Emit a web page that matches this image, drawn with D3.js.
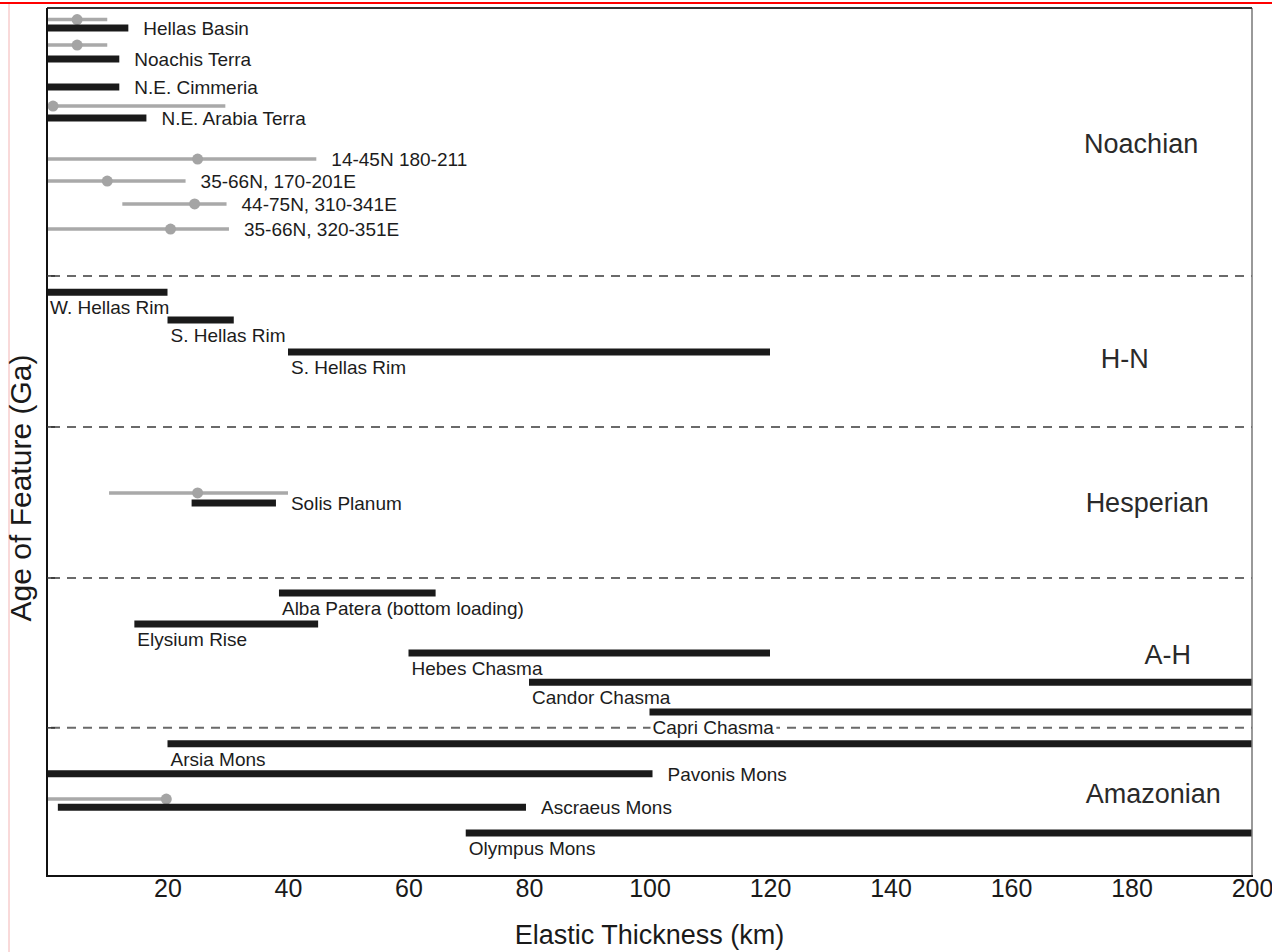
<!DOCTYPE html>
<html>
<head>
<meta charset="utf-8">
<script src="https://cdn.jsdelivr.net/npm/d3@7"></script>
<style>
  body { margin: 0; background: #fff; }
  svg { display: block; font-family: "Liberation Sans", Arial, sans-serif; }
</style>
</head>
<body>
<div id="chart"></div>
<script>
// feature names, top to bottom
var features = ["Hellas Basin", "Noachis Terra", "N.E. Cimmeria", "N.E. Arabia Terra",
  "14-45N 180-211", "35-66N, 170-201E", "44-75N, 310-341E", "35-66N, 320-351E",
  "W. Hellas Rim", "S. Hellas Rim", "S. Hellas Rim", "Solis Planum",
  "Alba Patera (bottom loading)", "Elysium Rise", "Hebes Chasma", "Candor Chasma", "Capri Chasma",
  "Arsia Mons", "Pavonis Mons", "Ascraeus Mons", "Olympus Mons"]

// black bars: elastic thickness range (km) and row
var blackLo  = [0, 0, 0, 0, null, null, null, null, 0, 20, 40, 24, 38.5, 14.5, 60, 80, 100, 20, 0, 1.8, 69.5]
var blackHi  = [13.5, 12, 12, 16.5, null, null, null, null, 20, 31, 120, 38, 64.5, 45, 120, 200, 200, 200, 100.5, 79.5, 200]
var blackRow = [0.69, 1.76, 2.73, 3.80, null, null, null, null, 9.82, 10.78, 11.89, 17.11, 20.22, 21.29, 22.29, 23.30, 24.33, 25.43, 26.47, 27.62, 28.51]

// grey estimates: range, best fit (dot) and row
var grayLo   = [0, 0, null, 0, 0, 0, 12.5, 0, null, null, null, 10.3, null, null, null, null, null, null, null, 0, null]
var grayHi   = [10, 10, null, 29.6, 44.7, 23, 29.8, 30.2, null, null, null, 40, null, null, null, null, null, null, null, 19.8, null]
var grayBest = [5, 5, null, 1, 25, 10, 24.5, 20.5, null, null, null, 25, null, null, null, null, null, null, null, 19.8, null]
var grayRow  = [0.40, 1.28, null, 3.39, 5.22, 5.98, 6.77, 7.64, null, null, null, 16.76, null, null, null, null, null, null, null, 27.34, null]

var labelSide = ["right", "right", "right", "right", "right", "right", "right", "right",
  "below", "below", "below", "right", "below", "below", "below", "below", "below",
  "below", "right", "right", "below"]

// age periods
var eras   = ["Noachian", "H-N", "Hesperian", "A-H", "Amazonian"]
var eraRow = [4.67, 12.1, 17.1, 22.33, 27.13]
var eraKm  = [181.6, 178.9, 182.6, 186, 183.6]
var boundaries = [9.26, 14.48, 19.70, 24.88]

var xTicks = [20, 40, 60, 80, 100, 120, 140, 160, 180, 200]

var width = 1272, height = 952
var plotLeft = 47, plotRight = 1252, plotTop = 8, plotBottom = 876

var svg = d3.select("#chart").append("svg")
  .attr("width", width).attr("height", height)

var x = d3.scaleLinear().domain([0, 200]).range([plotLeft, plotRight])
var y = d3.scaleLinear().domain([0, 30]).range([plotTop, plotBottom])

// screenshot edge marks
svg.append("line").attr("x1", 9).attr("x2", 9).attr("y1", 3).attr("y2", height)
  .attr("stroke", "#f3b4b4").attr("stroke-width", 1)
svg.append("line").attr("x1", 0).attr("x2", width).attr("y1", 3).attr("y2", 3)
  .attr("stroke", "#ff0000").attr("stroke-width", 2)

var rows = features.map(function(name, i) {
  return {
    name: name,
    bLo: blackLo[i], bHi: blackHi[i], bRow: blackRow[i],
    gLo: grayLo[i], gHi: grayHi[i], gBest: grayBest[i], gRow: grayRow[i],
    side: labelSide[i]
  }
})

// period boundaries
svg.append("g").selectAll("line")
  .data(boundaries).enter().append("line")
  .attr("x1", plotLeft).attr("x2", plotRight)
  .attr("y1", d => y(d)).attr("y2", d => y(d))
  .attr("stroke", "#6a6a6a").attr("stroke-width", 2)
  .attr("stroke-dasharray", "9,7")
  .attr("stroke-dashoffset", -4)

// label positions
rows.forEach(function(d) {
  if (d.side == "right") {
    var end = d.bHi != null ? d.bHi : d.gHi
    d.lx = x(end) + 15
    d.ly = y(d.bRow != null ? d.bRow : d.gRow)
  } else {
    d.lx = x(d.bLo) + 3
    d.ly = y(d.bRow) + 15
  }
})

var labelG = svg.append("g")
var marks = svg.append("g")

var labels = labelG.selectAll("text")
  .data(rows).enter().append("text")
  .attr("x", d => d.lx)
  .attr("y", d => d.ly)
  .attr("dy", "0.36em")
  .attr("font-size", 19)
  .attr("fill", "#1c1c1c")
  .text(d => d.name)

// white backing so dashed lines break under labels
labels.each(function() {
  var b = this.getBBox()
  labelG.insert("rect", "text")
    .attr("x", b.x - 2).attr("y", b.y + 2)
    .attr("width", b.width + 4).attr("height", b.height - 4)
    .attr("fill", "#fff")
})
labelG.raise()

var grayRows = rows.filter(d => d.gRow != null)
marks.selectAll("line.gray")
  .data(grayRows).enter().append("line")
  .attr("class", "gray")
  .attr("x1", d => x(d.gLo)).attr("x2", d => x(d.gHi))
  .attr("y1", d => y(d.gRow)).attr("y2", d => y(d.gRow))
  .attr("stroke", "#a9a9a9").attr("stroke-width", 3.5)

marks.selectAll("circle")
  .data(grayRows).enter().append("circle")
  .attr("cx", d => x(d.gBest)).attr("cy", d => y(d.gRow))
  .attr("r", 5.5)
  .attr("fill", "#a4a4a4")

marks.selectAll("line.black")
  .data(rows.filter(d => d.bRow != null)).enter().append("line")
  .attr("class", "black")
  .attr("x1", d => x(d.bLo)).attr("x2", d => x(d.bHi))
  .attr("y1", d => y(d.bRow)).attr("y2", d => y(d.bRow))
  .attr("stroke", "#1a1a1a").attr("stroke-width", 7)

// period names
svg.append("g").selectAll("text")
  .data(eras).enter().append("text")
  .attr("x", (d, i) => x(eraKm[i]))
  .attr("y", (d, i) => y(eraRow[i]))
  .attr("dy", "0.36em")
  .attr("text-anchor", "middle")
  .attr("font-size", 27)
  .attr("fill", "#2a2a2a")
  .text(d => d)

// frame
svg.append("line").attr("x1", plotRight).attr("x2", plotRight).attr("y1", plotTop).attr("y2", plotBottom)
  .attr("stroke", "#777").attr("stroke-width", 1.5)
svg.append("line").attr("x1", plotLeft).attr("x2", plotRight).attr("y1", plotTop).attr("y2", plotTop)
  .attr("stroke", "#333").attr("stroke-width", 2)
svg.append("line").attr("x1", plotLeft).attr("x2", plotRight + 1).attr("y1", plotBottom).attr("y2", plotBottom)
  .attr("stroke", "#111").attr("stroke-width", 2)
svg.append("line").attr("x1", plotLeft).attr("x2", plotLeft).attr("y1", plotTop).attr("y2", plotBottom + 1)
  .attr("stroke", "#111").attr("stroke-width", 2)

// small inward ticks on the age axis
svg.append("g").selectAll("line")
  .data(boundaries).enter().append("line")
  .attr("x1", plotLeft).attr("x2", plotLeft + 8)
  .attr("y1", d => y(d)).attr("y2", d => y(d))
  .attr("stroke", "#333").attr("stroke-width", 1.5)

var xAxis = svg.append("g")
  .attr("transform", `translate(0,${plotBottom})`)
  .call(d3.axisBottom(x).tickValues(xTicks).tickSize(0).tickPadding(3).tickFormat(d3.format("d")))
xAxis.select(".domain").remove()
xAxis.selectAll("text")
  .attr("font-size", 25)
  .attr("font-family", "\"Liberation Sans\", Arial, sans-serif")
  .attr("fill", "#1a1a1a")

svg.append("text")
  .attr("x", x(100)).attr("y", 944)
  .attr("text-anchor", "middle")
  .attr("font-size", 27)
  .attr("fill", "#1a1a1a")
  .text("Elastic Thickness (km)")

svg.append("text")
  .attr("transform", `translate(31,${(plotTop + plotBottom) / 2 + 46}) rotate(-90)`)
  .attr("text-anchor", "middle")
  .attr("font-size", 30)
  .attr("fill", "#1a1a1a")
  .text("Age of Feature (Ga)")
</script>
</body>
</html>
